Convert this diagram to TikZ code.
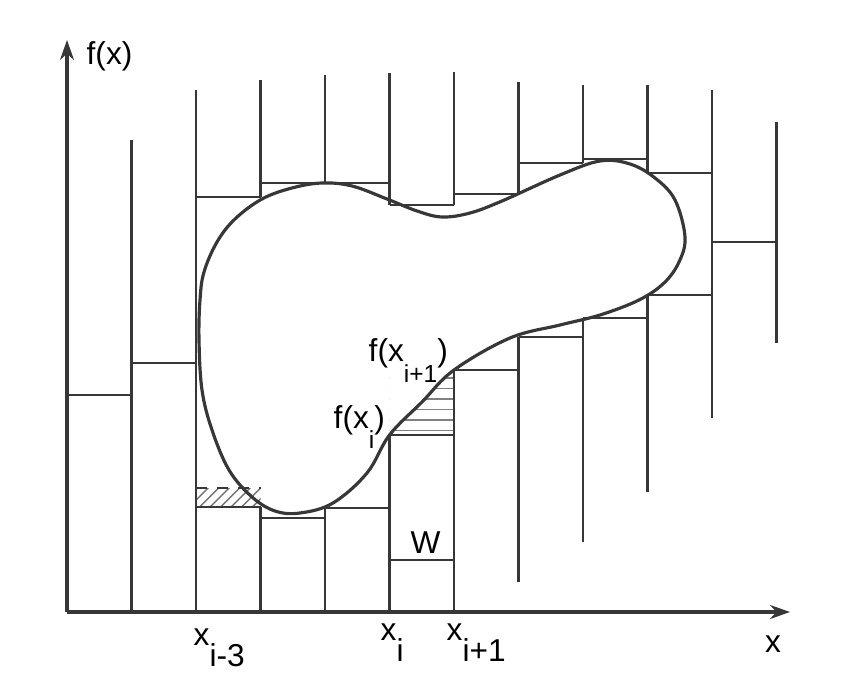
\documentclass[tikz,border=0pt]{standalone}
\usepackage{fontspec}
\setmainfont{Liberation Sans}
\usepackage{tikz}
\usetikzlibrary{arrows.meta,patterns}
\definecolor{ink}{RGB}{55,55,55}
\newcommand{\riser}[3]{\draw[ink, line width=0.75pt] (#1,#2) -- (#1,#3);}
\newcommand{\level}[3]{\draw[ink, line width=0.75pt] (#1,#3) -- (#2,#3);}
\newcommand{\lowsub}[2][-1.3ex]{\raisebox{#1}{#2}}
\newcommand{\blobpath}{plot[smooth cycle, tension=0.6] coordinates {
  (1.33,3.12) (1.37,3.40) (1.50,3.70) (1.68,3.93) (1.95,4.13) (2.25,4.24)
  (2.55,4.29) (2.85,4.26) (3.20,4.13) (3.50,4.01) (3.75,3.95) (4.03,3.99)
  (4.35,4.11) (4.93,4.37) (5.33,4.51) (5.63,4.48) (5.88,4.34) (6.08,4.12)
  (6.18,3.75) (6.12,3.50) (5.97,3.29) (5.72,3.12) (5.33,2.97) (4.93,2.87)
  (4.43,2.74) (3.87,2.42) (3.55,2.10) (3.225,1.77) (3.00,1.39) (2.66,1.09)
  (2.33,0.99) (2.08,1.01) (1.85,1.15) (1.62,1.42) (1.45,1.82) (1.35,2.22)
  (1.32,2.72)}}

\begin{document}
\begin{tikzpicture}[font=\small, inner sep=0pt]
  \useasboundingbox (-0.67,-0.84) rectangle (7.74,6.12);
  \coordinate (O) at (0,0);
  \coordinate (ytip) at (0,5.72);
  \coordinate (xtip) at (7.23,0);
  % shaded pieces
  \begin{scope}
    \clip (3.225,1.77) rectangle (3.87,2.42);
    \fill[pattern=horizontal lines, pattern color=black!50, even odd rule]
      (3.225,1.77) rectangle (3.87,2.42) \blobpath;
  \end{scope}
  \fill[pattern=north east lines, pattern color=black!55] (1.29,1.05) rectangle (1.935,1.24);
  \draw[ink, dashed, line width=0.6pt] (1.29,1.24) -- (1.935,1.24);
  % axes
  \draw[ink, line width=0.9pt, -{Stealth[length=2mm, width=1.4mm]}] (O) -- (ytip);
  \draw[ink, line width=0.9pt, -{Stealth[length=2mm, width=1.4mm]}] (O) -- (xtip);
  % strip edges
  \riser{0.645}{0}{4.72}
  \riser{1.29}{0}{5.22}
  \riser{1.935}{4.15}{5.32} \riser{1.935}{0}{1.05}
  \riser{2.58}{4.29}{5.37}  \riser{2.58}{0}{1.04}
  \riser{3.225}{4.07}{5.39} \riser{3.225}{0}{1.77}
  \riser{3.87}{4.07}{5.40}  \riser{3.87}{0}{2.42}
  \riser{4.515}{4.18}{5.30} \riser{4.515}{0.30}{2.75}
  \riser{5.16}{4.49}{5.27}  \riser{5.16}{0.70}{2.94}
  \riser{5.805}{4.39}{5.27} \riser{5.805}{1.20}{3.17}
  \riser{6.45}{1.94}{5.22}
  \riser{7.095}{2.69}{4.90}
  % strip heights
  \level{0}{0.645}{2.17}
  \level{0.645}{1.29}{2.49}
  \level{1.29}{1.935}{4.15}  \level{1.29}{1.935}{1.05}
  \level{1.935}{2.58}{4.29}  \level{1.935}{2.58}{0.94}
  \level{2.58}{3.225}{4.29}  \level{2.58}{3.225}{1.04}
  \level{3.225}{3.87}{4.07}  \level{3.225}{3.87}{1.77}
  \level{3.87}{4.515}{4.18}  \level{3.87}{4.515}{2.42}
  \level{4.515}{5.16}{4.49}  \level{4.515}{5.16}{2.75}
  \level{5.16}{5.805}{4.53}  \level{5.16}{5.805}{2.94}
  \level{5.805}{6.45}{4.39}  \level{5.805}{6.45}{3.17}
  \level{6.45}{7.095}{3.70}
  \level{3.225}{3.87}{0.52}
  % the region
  \draw[ink, line width=0.9pt] \blobpath;
  % labels
  \node[anchor=west] (fxlab) at (0.19,5.56) {f(x)};
  \node[anchor=base west] (xim3) at (1.26,-0.33) {x\lowsub{i-3}};
  \node[anchor=base west] (xi) at (3.13,-0.28) {x\lowsub{i}};
  \node[anchor=base west] (xip1) at (3.79,-0.28) {x\lowsub{i+1}};
  \node[anchor=base] (xlab) at (7.06,-0.40) {x};
  \node[anchor=base west] (fxip1) at (3.01,2.50) {f(x\lowsub[-1.2ex]{\scriptsize i+1})};
  \node[anchor=base west] (fxi) at (2.66,1.84) {f(x\lowsub[-1.2ex]{\scriptsize i})};
  \node[anchor=base west] (wlab) at (3.43,0.59) {W};
\end{tikzpicture}
\end{document}
